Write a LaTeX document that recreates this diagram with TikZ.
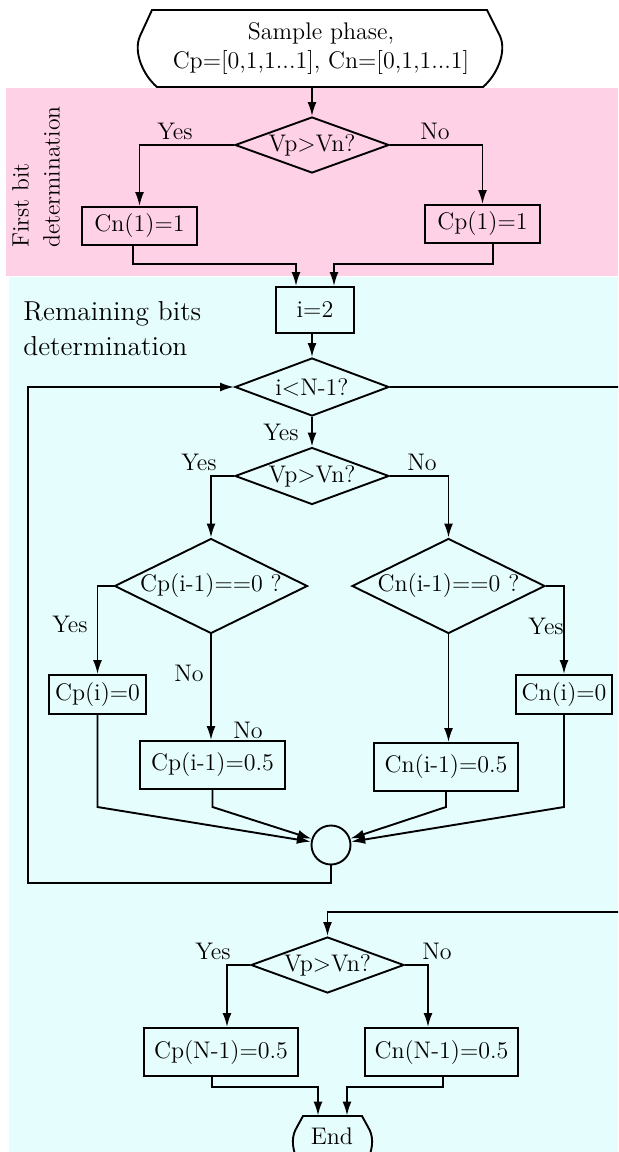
\documentclass[tikz,border=0pt]{standalone}
\usepackage{tikz}
\usepackage{amsmath,amssymb}
\usetikzlibrary{shapes.geometric,arrows.meta}

\definecolor{pinkbg}{RGB}{255,209,230}
\definecolor{cyanbg}{RGB}{230,253,253}

\tikzset{
  every node/.style={font=\fontsize{12}{14.8}\selectfont},
  decision/.style={diamond, draw, line width=0.95pt, inner sep=0pt, aspect=2.75},
  procbox/.style={rectangle, draw, line width=0.95pt, inner sep=2pt},
  joint/.style={circle, draw, line width=0.95pt, minimum size=19.5pt, inner sep=0pt},
  lbl/.style={inner sep=0pt},
  flow/.style={line width=0.95pt}
}

\begin{document}
\begin{tikzpicture}[x=0.5pt,y=-0.5pt,>={Latex[length=7pt,width=4.5pt]}]
\useasboundingbox (0,0) rectangle (618,1152);
\clip (0,0) rectangle (618,1152);

% bands
\fill[pinkbg] (6,88) rectangle (618,275.7);
\fill[cyanbg] (9,277) rectangle (618,1152);

% start
\draw[flow] (152,10) -- (487,10) -- (500,36) .. controls (507,52) and (497,75) .. (483,87) -- (157,87) .. controls (143,75) and (133,52) .. (140,36) -- cycle;
\node[align=center, minimum height=38.5pt] (start) at (321,48.5) {Sample phase,\\ Cp=[0,1,1...1], Cn=[0,1,1...1]};

% first bit
\node[lbl, rotate=90, align=left, font=\fontsize{11.8}{15.5}\selectfont] (firstlbl) at (36,177) {First bit\\determination};
\node[decision, minimum width=77pt, minimum height=28pt] (d1) at (312,145) {Vp$>$Vn?};
\node[procbox, minimum width=57.5pt, minimum height=19pt] (cn1) at (139.5,226) {Cn(1)=1};
\node[procbox, minimum width=57.5pt, minimum height=19pt] (cp1) at (482.5,224) {Cp(1)=1};
\node[lbl] (y1) at (175,131) {Yes};
\node[lbl] (n1) at (435,131) {No};

\draw[flow,->] (start.south -| d1.north) -- (d1.north);
\draw[flow,->] (d1.west) -| (cn1.north);
\draw[flow,->] (d1.east) -| (cp1.north);

% remaining bits
\node[lbl, anchor=west, align=left, font=\fontsize{13.7}{17.5}\selectfont] (remlbl) at (23,328.5) {Remaining bits\\determination};
\node[procbox, minimum width=39pt, minimum height=23pt] (ione) at (315,310) {i=2};
\draw[flow,->] ([xshift=-3.25pt]cn1.south) -- ++(0,18) -| ([xshift=-9.5pt]ione.north);
\draw[flow,->] ([xshift=5.25pt]cp1.south) -- ++(0,20) -| ([xshift=9.5pt]ione.north);

\node[decision, minimum width=77pt, minimum height=29pt] (d2) at (312,387) {i$<$N-1?};
\node[decision, minimum width=77pt, minimum height=28.5pt] (d3) at (312,476) {Vp$>$Vn?};
\draw[flow,->] (ione.south -| d2.north) -- (d2.north);
\draw[flow,->] (d2) -- (d3);
\node[lbl] (y2) at (281,432) {Yes};
\node[lbl] (y3) at (199,462) {Yes};
\node[lbl] (n3) at (422,462) {No};

\node[decision, aspect=2, minimum width=96.5pt, minimum height=47.5pt] (dcp) at (211,586) {Cp(i-1)==0 ?};
\node[decision, aspect=2, minimum width=96.5pt, minimum height=47.5pt] (dcn) at (448.5,586) {Cn(i-1)==0 ?};
\draw[flow,->] (d3.west) -| (dcp.north);
\draw[flow,->] (d3.east) -| (dcn.north);

\node[procbox, minimum width=48.5pt, minimum height=19.5pt] (cpi) at (97.5,694.5) {Cp(i)=0};
\node[procbox, minimum width=72.5pt, minimum height=24pt] (cpim) at (212.5,765) {Cp(i-1)=0.5};
\node[procbox, minimum width=72pt, minimum height=24pt] (cnim) at (446,767) {Cn(i-1)=0.5};
\node[procbox, minimum width=48pt, minimum height=19.5pt, inner sep=1pt] (cni) at (564,694.5) {Cn(i)=0};
\node[lbl] (y4) at (70,624) {Yes};
\node[lbl] (n4) at (189,673) {No};
\node[lbl] (n5) at (248,730) {No};
\node[lbl] (y5) at (546,626) {Yes};

\draw[flow,->] (dcp.west) -| (cpi.north);
\draw[flow,->] (dcp.south) -- (dcp.south |- cpim.north);
\draw[flow,->] (dcn.east) -| (cni.north);
\draw[flow,->] (dcn.south) -- (dcn.south |- cnim.north);

% merge and loop back
\node[joint] (jn) at (331,845) {};
\coordinate (mrg) at (0,807);
\draw[flow,->] (cpi.south) -- (cpi.south |- mrg) -- (jn);
\draw[flow,->] (cpim.south) -- (cpim.south |- mrg) -- (jn);
\draw[flow,->] (cnim.south) -- (cnim.south |- mrg) -- (jn);
\draw[flow,->] (cni.south) -- (cni.south |- mrg) -- (jn);

\coordinate (loopx) at (28,883);
\draw[flow,->] (jn.south) |- (loopx) |- (d2.west);

\coordinate (rexit) at (630,387);
\draw[flow] (d2.east) -- (rexit);

% last bit
\coordinate (rentry) at (630,912);
\node[decision, minimum width=76.5pt, minimum height=28pt] (d4) at (327.5,965) {Vp$>$Vn?};
\draw[flow,->] (rentry) -| (d4.north);
\node[lbl] (y6) at (213,951) {Yes};
\node[lbl] (n6) at (437,951) {No};
\node[procbox, minimum width=77pt, minimum height=24pt] (cpn) at (221,1052) {Cp(N-1)=0.5};
\node[procbox, minimum width=76.5pt, minimum height=24pt] (cnn) at (441.5,1052) {Cn(N-1)=0.5};
\draw[flow,->] (d4.west) -| ([xshift=3pt]cpn.north);
\draw[flow,->] (d4.east) -| ([xshift=-6.75pt]cnn.north);

% end
\draw[flow] (297,1160) .. controls (291,1145) and (292,1135) .. (297,1127) -- (303,1116) -- (362,1116) -- (368,1127) .. controls (373,1135) and (374,1145) .. (368,1160);
\node[minimum height=20pt, minimum width=30pt, inner sep=0pt] (stop) at (332,1136) {End};
\draw[flow,->] ([xshift=-4.5pt]cpn.south) -- ++(0,10) -| ([xshift=-7pt]stop.north);
\draw[flow,->] ([xshift=0.75pt]cnn.south) -- ++(0,10) -| ([xshift=7.5pt]stop.north);
\end{tikzpicture}
\end{document}
